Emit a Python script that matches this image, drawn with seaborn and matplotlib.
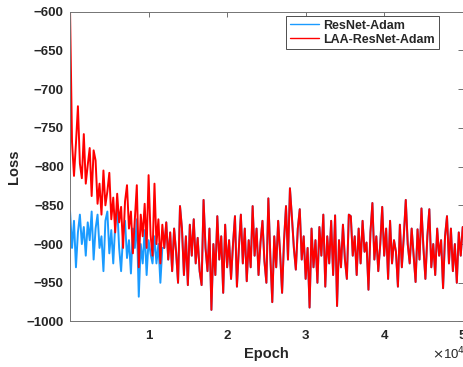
import numpy as np
import pandas as pd
import matplotlib
matplotlib.use("Agg")
import matplotlib.pyplot as plt
import seaborn as sns

# Data (one point every 250 epochs)
step = 250

# first 48 points differ between the two runs
red_head = [-600, -768, -812, -770, -722, -796, -815, -758, -822, -798,
            -776, -838, -779, -792, -848, -822, -862, -805, -850, -832,
            -808, -868, -840, -885, -835, -872, -852, -905, -845, -824,
            -880, -858, -912, -868, -824, -930, -862, -890, -848, -905,
            -811, -888, -915, -822, -900, -868, -925, -875]
blue_head = [-858, -905, -870, -930, -885, -862, -900, -878, -915, -872,
             -895, -858, -920, -880, -862, -905, -890, -935, -870, -858,
             -912, -882, -925, -875, -852, -905, -935, -888, -870, -918,
             -895, -938, -880, -905, -868, -968, -900, -925, -882, -940,
             -895, -912, -925, -890, -925, -900, -950, -905]

# after ~1.2e4 epochs the blue curve sits under the red one
shared_tail = [-905, -872, -920, -885, -935, -880, -910, -950, -851, -880,
               -940, -890, -953, -875, -915, -868, -925, -892, -935, -953,
               -843, -905, -935, -880, -985, -900, -940, -864, -920, -890,
               -963, -875, -930, -895, -945, -900, -864, -955, -905, -862,
               -925, -880, -948, -895, -930, -851, -915, -880, -940, -898,
               -870, -922, -950, -841, -915, -975, -890, -930, -870, -912,
               -963, -895, -851, -920, -828, -865, -905, -933, -880, -855,
               -920, -890, -945, -905, -982, -880, -930, -895, -950, -878,
               -915, -862, -955, -890, -925, -870, -940, -863, -980, -895,
               -930, -875, -920, -945, -862, -864, -915, -890, -940, -880,
               -925, -870, -910, -898, -959, -885, -847, -920, -890, -935,
               -900, -852, -915, -880, -945, -870, -925, -895, -910, -955,
               -875, -930, -890, -843, -900, -925, -880, -915, -949, -881,
               -920, -854, -905, -945, -890, -855, -930, -900, -940, -880,
               -915, -895, -957, -890, -864, -925, -880, -935, -900, -950,
               -885, -915, -878]

series_names = ["ResNet-Adam", "LAA-ResNet-Adam"]
blue_loss = blue_head + shared_tail
red_loss = red_head + shared_tail

x_ticks = [10000, 20000, 30000, 40000, 50000]
x_tick_labels = ["1", "2", "3", "4", "5"]
y_ticks = list(range(-1000, -599, 50))

df = pd.concat([
    pd.DataFrame({"Epoch": np.arange(len(blue_loss)) * step, "Loss": blue_loss, "Model": series_names[0]}),
    pd.DataFrame({"Epoch": np.arange(len(red_loss)) * step, "Loss": red_loss, "Model": series_names[1]}),
])

sns.set_style("white")
plt.rcParams["font.family"] = ["Liberation Sans", "DejaVu Sans"]

fig, ax = plt.subplots(figsize=(4.64, 3.67), dpi=100)
fig.subplots_adjust(left=0.151, right=0.9972, bottom=0.124, top=0.968)

sns.lineplot(data=df, x="Epoch", y="Loss", hue="Model", hue_order=series_names,
             palette=["#1a9bff", "#ff0000"], estimator=None, linewidth=1.4, ax=ax)

ax.set_xlim(0, 50000)
ax.set_ylim(-1000, -600)
ax.set_xticks(x_ticks)
ax.set_xticklabels(x_tick_labels)
ax.set_yticks(y_ticks)
ax.tick_params(direction="in", length=3.5, width=0.6, color="0.35",
               top=True, right=True, labelsize=9.5)
ax.tick_params(axis="x", pad=6)
ax.tick_params(axis="y", pad=4.5)
for lab in ax.get_xticklabels() + ax.get_yticklabels():
    lab.set_fontweight("bold")
for sp in ax.spines.values():
    sp.set_color("0.45")
    sp.set_linewidth(0.7)

ax.set_xlabel("Epoch", fontsize=10.5, fontweight="bold", labelpad=4)
ax.set_ylabel("Loss", fontsize=10.5, fontweight="bold", labelpad=4)

leg = ax.legend(loc="upper right", bbox_to_anchor=(0.939, 0.986), borderaxespad=0,
                fancybox=False, framealpha=1, edgecolor="0.3", handlelength=2.3,
                prop={"weight": "bold", "size": 9}, borderpad=0.3,
                labelspacing=0.15, handletextpad=0.35)
leg.get_frame().set_linewidth(0.7)
for line in leg.get_lines():
    line.set_linewidth(1.0)

fig.text(432 / 464, 5 / 367, r"$\times$10$^4$", fontsize=9.5, ha="left", va="bottom")

fig.savefig("out.png", dpi=100)
